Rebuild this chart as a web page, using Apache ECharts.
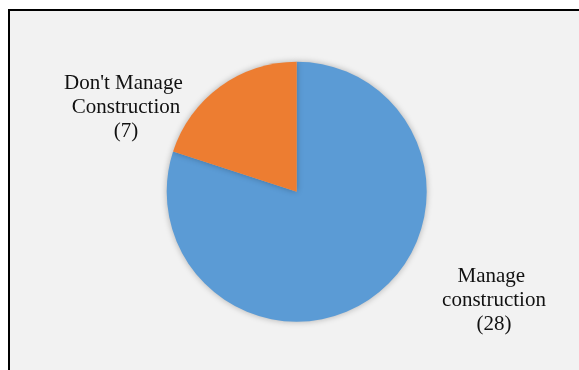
<!DOCTYPE html>
<html>
<head>
<meta charset="utf-8">
<style>
  html, body { margin: 0; padding: 0; background: #ffffff; }
  #chart { width: 579px; height: 370px; }
</style>
<script src="https://cdn.jsdelivr.net/npm/echarts@6/dist/echarts.min.js"></script>
</head>
<body>
<div id="chart"></div>
<script>
// Survey answers: who manages construction
const categories = ['Manage construction', "Don't Manage Construction"];
const counts = [28, 7];
const sliceColors = ['#5b9bd5', '#ed7d31'];

// Where each slice label sits (centre of the text block)
const labelSpots = [
  { x: 494, y: 300 },
  { x: 126, y: 107 }
];

const chart = echarts.init(document.getElementById('chart'), null, { renderer: 'canvas' });

chart.setOption({
  backgroundColor: '#ffffff',
  animation: false,
  graphic: [{
    type: 'rect',
    z: -10,
    shape: { x: 9, y: 10, width: 640, height: 420 },
    style: { fill: '#f2f2f2', stroke: '#000000', lineWidth: 2 }
  }],
  series: [{
    type: 'pie',
    center: [296.7, 191.7],
    radius: 130,
    startAngle: 90,
    clockwise: true,
    silent: true,
    data: categories.map((name, i) => ({
      name: name,
      value: counts[i],
      itemStyle: { color: sliceColors[i] }
    })),
    itemStyle: {
      borderWidth: 0,
      shadowBlur: 6,
      shadowColor: 'rgba(0,0,0,0.28)'
    },
    label: {
      show: true,
      position: 'outside',
      formatter: '{b}\n({c})',
      width: 128,
      overflow: 'break',
      align: 'center',
      fontFamily: '"Liberation Serif", "Times New Roman", serif',
      fontSize: 21,
      lineHeight: 24,
      color: '#111111'
    },
    labelLine: { show: false },
    labelLayout: function (params) {
      const spot = labelSpots[params.dataIndex];
      return { x: spot.x, y: spot.y, align: 'center', verticalAlign: 'middle' };
    }
  }]
});
</script>
</body>
</html>
